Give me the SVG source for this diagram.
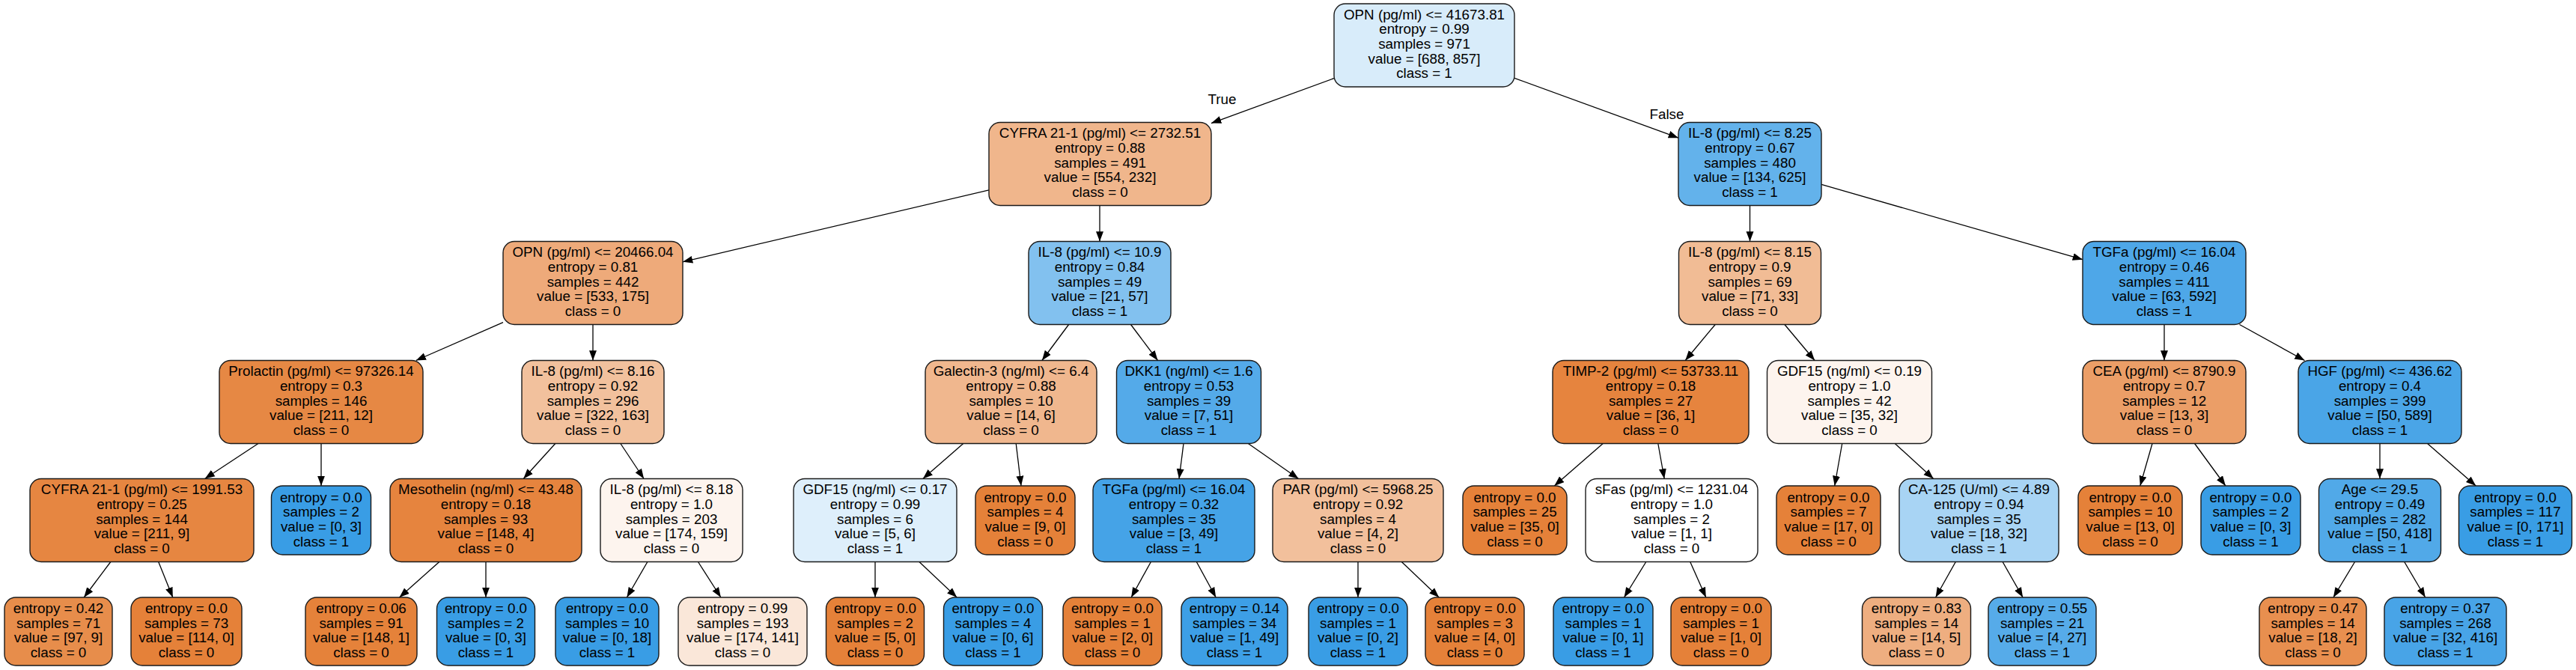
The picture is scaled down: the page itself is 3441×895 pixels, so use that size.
<svg xmlns="http://www.w3.org/2000/svg" width="3441" height="895" viewBox="0 0 3441 895">
<defs>
<marker id="arr" markerUnits="userSpaceOnUse" markerWidth="14" markerHeight="11" refX="13.3" refY="5.2" orient="auto">
<path d="M0,0.2 L13.3,5.2 L0,10.2 z" fill="#000"/>
</marker>
</defs>
<style>
.node rect{stroke:#1a1a1a;stroke-width:1.4}
text{font-family:"Liberation Sans",Arial,Helvetica,sans-serif;font-size:18.8px;text-anchor:middle;fill:#000}
#edges line{stroke:#000;stroke-width:1.3;marker-end:url(#arr)}
</style>
<rect x="0" y="0" width="3441" height="895" fill="#fff"/>
<g id="edges">
<line x1="1782" y1="104.6" x2="1618" y2="164.6"/>
<line x1="2023" y1="104.4" x2="2242" y2="184.2"/>
<line x1="1321" y1="253.9" x2="912" y2="349.8"/>
<line x1="1469" y1="274.5" x2="1469" y2="322.5"/>
<line x1="672" y1="430.6" x2="555.7" y2="481.5"/>
<line x1="792" y1="433.5" x2="792" y2="481.5"/>
<line x1="344.9" y1="592.5" x2="273.6" y2="639.5"/>
<line x1="429" y1="592.5" x2="429" y2="649"/>
<line x1="147.8" y1="750.5" x2="112.2" y2="798"/>
<line x1="211.7" y1="750.5" x2="230.8" y2="798"/>
<line x1="741.8" y1="592.5" x2="699.2" y2="639.5"/>
<line x1="828.9" y1="592.5" x2="860.1" y2="639.5"/>
<line x1="586.8" y1="750.5" x2="533.5" y2="798"/>
<line x1="649" y1="750.5" x2="649" y2="798"/>
<line x1="864.9" y1="750.5" x2="837.4" y2="798"/>
<line x1="932.5" y1="750.5" x2="962.9" y2="798"/>
<line x1="1427.6" y1="433.5" x2="1391.9" y2="481.5"/>
<line x1="1510.5" y1="433.5" x2="1546.5" y2="481.5"/>
<line x1="1286.7" y1="592.5" x2="1232.8" y2="639.5"/>
<line x1="1357.2" y1="592.5" x2="1364" y2="649"/>
<line x1="1169" y1="750.5" x2="1169" y2="798"/>
<line x1="1227.9" y1="750.5" x2="1278.2" y2="798"/>
<line x1="1581" y1="592.5" x2="1575" y2="639.5"/>
<line x1="1667.4" y1="592.5" x2="1734.6" y2="639.5"/>
<line x1="1537.4" y1="750.5" x2="1511.1" y2="798"/>
<line x1="1598.3" y1="750.5" x2="1624.2" y2="798"/>
<line x1="1814" y1="750.5" x2="1814" y2="798"/>
<line x1="1872.3" y1="750.5" x2="1922.2" y2="798"/>
<line x1="2337.5" y1="274.5" x2="2337.5" y2="322.5"/>
<line x1="2433" y1="246.4" x2="2782" y2="346.7"/>
<line x1="2291.2" y1="433.5" x2="2251.2" y2="481.5"/>
<line x1="2383.9" y1="433.5" x2="2424.1" y2="481.5"/>
<line x1="2141.2" y1="592.5" x2="2076.3" y2="649"/>
<line x1="2214.8" y1="592.5" x2="2223.2" y2="639.5"/>
<line x1="2198.8" y1="750.5" x2="2169.5" y2="798"/>
<line x1="2257.7" y1="750.5" x2="2278.8" y2="798"/>
<line x1="2460.7" y1="592.5" x2="2450.7" y2="649"/>
<line x1="2531.3" y1="592.5" x2="2582.7" y2="639.5"/>
<line x1="2612.3" y1="750.5" x2="2585.6" y2="798"/>
<line x1="2675.1" y1="750.5" x2="2702.1" y2="798"/>
<line x1="2891" y1="433.5" x2="2891" y2="481.5"/>
<line x1="2991.5" y1="433.5" x2="3078.5" y2="481.5"/>
<line x1="2875" y1="592.5" x2="2858.8" y2="649"/>
<line x1="2931.6" y1="592.5" x2="2972.9" y2="649"/>
<line x1="3179" y1="592.5" x2="3179" y2="639.5"/>
<line x1="3242.6" y1="592.5" x2="3307.3" y2="649"/>
<line x1="3145.6" y1="750.5" x2="3116.9" y2="798"/>
<line x1="3211.7" y1="750.5" x2="3239.7" y2="798"/>
<text x="1632.5" y="139">True</text>
<text x="2226.5" y="159">False</text>
</g>
<g id="n0" class="node"><rect x="1782" y="5" width="241" height="111" rx="15" fill="#d8ecfa"/><text y="25.6"><tspan x="1902.5">OPN (pg/ml) &lt;= 41673.81</tspan><tspan x="1902.5" dy="19.7">entropy = 0.99</tspan><tspan x="1902.5" dy="19.7">samples = 971</tspan><tspan x="1902.5" dy="19.7">value = [688, 857]</tspan><tspan x="1902.5" dy="19.7">class = 1</tspan></text></g>
<g id="n1" class="node"><rect x="1321" y="163.5" width="297" height="111" rx="15" fill="#f0b68c"/><text y="184.1"><tspan x="1469.5">CYFRA 21-1 (pg/ml) &lt;= 2732.51</tspan><tspan x="1469.5" dy="19.7">entropy = 0.88</tspan><tspan x="1469.5" dy="19.7">samples = 491</tspan><tspan x="1469.5" dy="19.7">value = [554, 232]</tspan><tspan x="1469.5" dy="19.7">class = 0</tspan></text></g>
<g id="n2" class="node"><rect x="2242" y="163.5" width="191" height="111" rx="15" fill="#63b2eb"/><text y="184.1"><tspan x="2337.5">IL-8 (pg/ml) &lt;= 8.25</tspan><tspan x="2337.5" dy="19.7">entropy = 0.67</tspan><tspan x="2337.5" dy="19.7">samples = 480</tspan><tspan x="2337.5" dy="19.7">value = [134, 625]</tspan><tspan x="2337.5" dy="19.7">class = 1</tspan></text></g>
<g id="n3" class="node"><rect x="672" y="322.5" width="240" height="111" rx="15" fill="#eeaa7a"/><text y="343.1"><tspan x="792">OPN (pg/ml) &lt;= 20466.04</tspan><tspan x="792" dy="19.7">entropy = 0.81</tspan><tspan x="792" dy="19.7">samples = 442</tspan><tspan x="792" dy="19.7">value = [533, 175]</tspan><tspan x="792" dy="19.7">class = 0</tspan></text></g>
<g id="n4" class="node"><rect x="1374" y="322.5" width="190" height="111" rx="15" fill="#82c1ef"/><text y="343.1"><tspan x="1469">IL-8 (pg/ml) &lt;= 10.9</tspan><tspan x="1469" dy="19.7">entropy = 0.84</tspan><tspan x="1469" dy="19.7">samples = 49</tspan><tspan x="1469" dy="19.7">value = [21, 57]</tspan><tspan x="1469" dy="19.7">class = 1</tspan></text></g>
<g id="n5" class="node"><rect x="2242.5" y="322.5" width="190" height="111" rx="15" fill="#f1bc95"/><text y="343.1"><tspan x="2337.5">IL-8 (pg/ml) &lt;= 8.15</tspan><tspan x="2337.5" dy="19.7">entropy = 0.9</tspan><tspan x="2337.5" dy="19.7">samples = 69</tspan><tspan x="2337.5" dy="19.7">value = [71, 33]</tspan><tspan x="2337.5" dy="19.7">class = 0</tspan></text></g>
<g id="n6" class="node"><rect x="2782" y="322.5" width="218" height="111" rx="15" fill="#4ea7e8"/><text y="343.1"><tspan x="2891">TGFa (pg/ml) &lt;= 16.04</tspan><tspan x="2891" dy="19.7">entropy = 0.46</tspan><tspan x="2891" dy="19.7">samples = 411</tspan><tspan x="2891" dy="19.7">value = [63, 592]</tspan><tspan x="2891" dy="19.7">class = 1</tspan></text></g>
<g id="n7" class="node"><rect x="293" y="481.5" width="272" height="111" rx="15" fill="#e68844"/><text y="502.1"><tspan x="429">Prolactin (pg/ml) &lt;= 97326.14</tspan><tspan x="429" dy="19.7">entropy = 0.3</tspan><tspan x="429" dy="19.7">samples = 146</tspan><tspan x="429" dy="19.7">value = [211, 12]</tspan><tspan x="429" dy="19.7">class = 0</tspan></text></g>
<g id="n8" class="node"><rect x="697" y="481.5" width="190" height="111" rx="15" fill="#f2c19d"/><text y="502.1"><tspan x="792">IL-8 (pg/ml) &lt;= 8.16</tspan><tspan x="792" dy="19.7">entropy = 0.92</tspan><tspan x="792" dy="19.7">samples = 296</tspan><tspan x="792" dy="19.7">value = [322, 163]</tspan><tspan x="792" dy="19.7">class = 0</tspan></text></g>
<g id="n9" class="node"><rect x="1236" y="481.5" width="229" height="111" rx="15" fill="#f0b78e"/><text y="502.1"><tspan x="1350.5">Galectin-3 (ng/ml) &lt;= 6.4</tspan><tspan x="1350.5" dy="19.7">entropy = 0.88</tspan><tspan x="1350.5" dy="19.7">samples = 10</tspan><tspan x="1350.5" dy="19.7">value = [14, 6]</tspan><tspan x="1350.5" dy="19.7">class = 0</tspan></text></g>
<g id="n10" class="node"><rect x="1491.5" y="481.5" width="193" height="111" rx="15" fill="#54aae9"/><text y="502.1"><tspan x="1588">DKK1 (ng/ml) &lt;= 1.6</tspan><tspan x="1588" dy="19.7">entropy = 0.53</tspan><tspan x="1588" dy="19.7">samples = 39</tspan><tspan x="1588" dy="19.7">value = [7, 51]</tspan><tspan x="1588" dy="19.7">class = 1</tspan></text></g>
<g id="n11" class="node"><rect x="2074" y="481.5" width="262" height="111" rx="15" fill="#e6843e"/><text y="502.1"><tspan x="2205">TIMP-2 (pg/ml) &lt;= 53733.11</tspan><tspan x="2205" dy="19.7">entropy = 0.18</tspan><tspan x="2205" dy="19.7">samples = 27</tspan><tspan x="2205" dy="19.7">value = [36, 1]</tspan><tspan x="2205" dy="19.7">class = 0</tspan></text></g>
<g id="n12" class="node"><rect x="2360.5" y="481.5" width="220" height="111" rx="15" fill="#fdf4ee"/><text y="502.1"><tspan x="2470.5">GDF15 (ng/ml) &lt;= 0.19</tspan><tspan x="2470.5" dy="19.7">entropy = 1.0</tspan><tspan x="2470.5" dy="19.7">samples = 42</tspan><tspan x="2470.5" dy="19.7">value = [35, 32]</tspan><tspan x="2470.5" dy="19.7">class = 0</tspan></text></g>
<g id="n13" class="node"><rect x="2782" y="481.5" width="218" height="111" rx="15" fill="#eb9e67"/><text y="502.1"><tspan x="2891">CEA (pg/ml) &lt;= 8790.9</tspan><tspan x="2891" dy="19.7">entropy = 0.7</tspan><tspan x="2891" dy="19.7">samples = 12</tspan><tspan x="2891" dy="19.7">value = [13, 3]</tspan><tspan x="2891" dy="19.7">class = 0</tspan></text></g>
<g id="n14" class="node"><rect x="3070" y="481.5" width="218" height="111" rx="15" fill="#4aa5e7"/><text y="502.1"><tspan x="3179">HGF (pg/ml) &lt;= 436.62</tspan><tspan x="3179" dy="19.7">entropy = 0.4</tspan><tspan x="3179" dy="19.7">samples = 399</tspan><tspan x="3179" dy="19.7">value = [50, 589]</tspan><tspan x="3179" dy="19.7">class = 1</tspan></text></g>
<g id="n15" class="node"><rect x="40" y="639.5" width="299" height="111" rx="15" fill="#e68641"/><text y="660.1"><tspan x="189.5">CYFRA 21-1 (pg/ml) &lt;= 1991.53</tspan><tspan x="189.5" dy="19.7">entropy = 0.25</tspan><tspan x="189.5" dy="19.7">samples = 144</tspan><tspan x="189.5" dy="19.7">value = [211, 9]</tspan><tspan x="189.5" dy="19.7">class = 0</tspan></text></g>
<g id="n16" class="node"><rect x="362.5" y="649" width="133" height="92" rx="15" fill="#399de5"/><text y="670.5"><tspan x="429">entropy = 0.0</tspan><tspan x="429" dy="19.7">samples = 2</tspan><tspan x="429" dy="19.7">value = [0, 3]</tspan><tspan x="429" dy="19.7">class = 1</tspan></text></g>
<g id="n17" class="node"><rect x="521" y="639.5" width="256" height="111" rx="15" fill="#e6843e"/><text y="660.1"><tspan x="649">Mesothelin (ng/ml) &lt;= 43.48</tspan><tspan x="649" dy="19.7">entropy = 0.18</tspan><tspan x="649" dy="19.7">samples = 93</tspan><tspan x="649" dy="19.7">value = [148, 4]</tspan><tspan x="649" dy="19.7">class = 0</tspan></text></g>
<g id="n18" class="node"><rect x="802" y="639.5" width="190" height="111" rx="15" fill="#fdf4ee"/><text y="660.1"><tspan x="897">IL-8 (pg/ml) &lt;= 8.18</tspan><tspan x="897" dy="19.7">entropy = 1.0</tspan><tspan x="897" dy="19.7">samples = 203</tspan><tspan x="897" dy="19.7">value = [174, 159]</tspan><tspan x="897" dy="19.7">class = 0</tspan></text></g>
<g id="n19" class="node"><rect x="1060" y="639.5" width="218" height="111" rx="15" fill="#deeffb"/><text y="660.1"><tspan x="1169">GDF15 (ng/ml) &lt;= 0.17</tspan><tspan x="1169" dy="19.7">entropy = 0.99</tspan><tspan x="1169" dy="19.7">samples = 6</tspan><tspan x="1169" dy="19.7">value = [5, 6]</tspan><tspan x="1169" dy="19.7">class = 1</tspan></text></g>
<g id="n20" class="node"><rect x="1303" y="649" width="133" height="92" rx="15" fill="#e58139"/><text y="670.5"><tspan x="1369.5">entropy = 0.0</tspan><tspan x="1369.5" dy="19.7">samples = 4</tspan><tspan x="1369.5" dy="19.7">value = [9, 0]</tspan><tspan x="1369.5" dy="19.7">class = 0</tspan></text></g>
<g id="n21" class="node"><rect x="1460" y="639.5" width="216" height="111" rx="15" fill="#45a3e7"/><text y="660.1"><tspan x="1568">TGFa (pg/ml) &lt;= 16.04</tspan><tspan x="1568" dy="19.7">entropy = 0.32</tspan><tspan x="1568" dy="19.7">samples = 35</tspan><tspan x="1568" dy="19.7">value = [3, 49]</tspan><tspan x="1568" dy="19.7">class = 1</tspan></text></g>
<g id="n22" class="node"><rect x="1700" y="639.5" width="228" height="111" rx="15" fill="#f2c09c"/><text y="660.1"><tspan x="1814">PAR (pg/ml) &lt;= 5968.25</tspan><tspan x="1814" dy="19.7">entropy = 0.92</tspan><tspan x="1814" dy="19.7">samples = 4</tspan><tspan x="1814" dy="19.7">value = [4, 2]</tspan><tspan x="1814" dy="19.7">class = 0</tspan></text></g>
<g id="n23" class="node"><rect x="1954" y="649" width="139" height="92" rx="15" fill="#e58139"/><text y="670.5"><tspan x="2023.5">entropy = 0.0</tspan><tspan x="2023.5" dy="19.7">samples = 25</tspan><tspan x="2023.5" dy="19.7">value = [35, 0]</tspan><tspan x="2023.5" dy="19.7">class = 0</tspan></text></g>
<g id="n24" class="node"><rect x="2118" y="639.5" width="230" height="111" rx="15" fill="#ffffff"/><text y="660.1"><tspan x="2233">sFas (pg/ml) &lt;= 1231.04</tspan><tspan x="2233" dy="19.7">entropy = 1.0</tspan><tspan x="2233" dy="19.7">samples = 2</tspan><tspan x="2233" dy="19.7">value = [1, 1]</tspan><tspan x="2233" dy="19.7">class = 0</tspan></text></g>
<g id="n25" class="node"><rect x="2373" y="649" width="139" height="92" rx="15" fill="#e58139"/><text y="670.5"><tspan x="2442.5">entropy = 0.0</tspan><tspan x="2442.5" dy="19.7">samples = 7</tspan><tspan x="2442.5" dy="19.7">value = [17, 0]</tspan><tspan x="2442.5" dy="19.7">class = 0</tspan></text></g>
<g id="n26" class="node"><rect x="2537" y="639.5" width="213" height="111" rx="15" fill="#a8d4f4"/><text y="660.1"><tspan x="2643.5">CA-125 (U/ml) &lt;= 4.89</tspan><tspan x="2643.5" dy="19.7">entropy = 0.94</tspan><tspan x="2643.5" dy="19.7">samples = 35</tspan><tspan x="2643.5" dy="19.7">value = [18, 32]</tspan><tspan x="2643.5" dy="19.7">class = 1</tspan></text></g>
<g id="n27" class="node"><rect x="2776" y="649" width="139" height="92" rx="15" fill="#e58139"/><text y="670.5"><tspan x="2845.5">entropy = 0.0</tspan><tspan x="2845.5" dy="19.7">samples = 10</tspan><tspan x="2845.5" dy="19.7">value = [13, 0]</tspan><tspan x="2845.5" dy="19.7">class = 0</tspan></text></g>
<g id="n28" class="node"><rect x="2940" y="649" width="133" height="92" rx="15" fill="#399de5"/><text y="670.5"><tspan x="3006.5">entropy = 0.0</tspan><tspan x="3006.5" dy="19.7">samples = 2</tspan><tspan x="3006.5" dy="19.7">value = [0, 3]</tspan><tspan x="3006.5" dy="19.7">class = 1</tspan></text></g>
<g id="n29" class="node"><rect x="3097.5" y="639.5" width="163" height="111" rx="15" fill="#51a9e8"/><text y="660.1"><tspan x="3179">Age &lt;= 29.5</tspan><tspan x="3179" dy="19.7">entropy = 0.49</tspan><tspan x="3179" dy="19.7">samples = 282</tspan><tspan x="3179" dy="19.7">value = [50, 418]</tspan><tspan x="3179" dy="19.7">class = 1</tspan></text></g>
<g id="n30" class="node"><rect x="3284.5" y="649" width="151" height="92" rx="15" fill="#399de5"/><text y="670.5"><tspan x="3360">entropy = 0.0</tspan><tspan x="3360" dy="19.7">samples = 117</tspan><tspan x="3360" dy="19.7">value = [0, 171]</tspan><tspan x="3360" dy="19.7">class = 1</tspan></text></g>
<g id="n31" class="node"><rect x="6" y="798" width="144" height="91" rx="15" fill="#e78d4b"/><text y="819"><tspan x="78">entropy = 0.42</tspan><tspan x="78" dy="19.7">samples = 71</tspan><tspan x="78" dy="19.7">value = [97, 9]</tspan><tspan x="78" dy="19.7">class = 0</tspan></text></g>
<g id="n32" class="node"><rect x="175" y="798" width="148" height="91" rx="15" fill="#e58139"/><text y="819"><tspan x="249">entropy = 0.0</tspan><tspan x="249" dy="19.7">samples = 73</tspan><tspan x="249" dy="19.7">value = [114, 0]</tspan><tspan x="249" dy="19.7">class = 0</tspan></text></g>
<g id="n33" class="node"><rect x="408" y="798" width="149" height="91" rx="15" fill="#e5823a"/><text y="819"><tspan x="482.5">entropy = 0.06</tspan><tspan x="482.5" dy="19.7">samples = 91</tspan><tspan x="482.5" dy="19.7">value = [148, 1]</tspan><tspan x="482.5" dy="19.7">class = 0</tspan></text></g>
<g id="n34" class="node"><rect x="583.5" y="798" width="131" height="91" rx="15" fill="#399de5"/><text y="819"><tspan x="649">entropy = 0.0</tspan><tspan x="649" dy="19.7">samples = 2</tspan><tspan x="649" dy="19.7">value = [0, 3]</tspan><tspan x="649" dy="19.7">class = 1</tspan></text></g>
<g id="n35" class="node"><rect x="742" y="798" width="138" height="91" rx="15" fill="#399de5"/><text y="819"><tspan x="811">entropy = 0.0</tspan><tspan x="811" dy="19.7">samples = 10</tspan><tspan x="811" dy="19.7">value = [0, 18]</tspan><tspan x="811" dy="19.7">class = 1</tspan></text></g>
<g id="n36" class="node"><rect x="906" y="798" width="172" height="91" rx="15" fill="#fae7d9"/><text y="819"><tspan x="992">entropy = 0.99</tspan><tspan x="992" dy="19.7">samples = 193</tspan><tspan x="992" dy="19.7">value = [174, 141]</tspan><tspan x="992" dy="19.7">class = 0</tspan></text></g>
<g id="n37" class="node"><rect x="1103.5" y="798" width="131" height="91" rx="15" fill="#e58139"/><text y="819"><tspan x="1169">entropy = 0.0</tspan><tspan x="1169" dy="19.7">samples = 2</tspan><tspan x="1169" dy="19.7">value = [5, 0]</tspan><tspan x="1169" dy="19.7">class = 0</tspan></text></g>
<g id="n38" class="node"><rect x="1260.5" y="798" width="132" height="91" rx="15" fill="#399de5"/><text y="819"><tspan x="1326.5">entropy = 0.0</tspan><tspan x="1326.5" dy="19.7">samples = 4</tspan><tspan x="1326.5" dy="19.7">value = [0, 6]</tspan><tspan x="1326.5" dy="19.7">class = 1</tspan></text></g>
<g id="n39" class="node"><rect x="1420" y="798" width="132" height="91" rx="15" fill="#e58139"/><text y="819"><tspan x="1486">entropy = 0.0</tspan><tspan x="1486" dy="19.7">samples = 1</tspan><tspan x="1486" dy="19.7">value = [2, 0]</tspan><tspan x="1486" dy="19.7">class = 0</tspan></text></g>
<g id="n40" class="node"><rect x="1578" y="798" width="142" height="91" rx="15" fill="#3d9fe6"/><text y="819"><tspan x="1649">entropy = 0.14</tspan><tspan x="1649" dy="19.7">samples = 34</tspan><tspan x="1649" dy="19.7">value = [1, 49]</tspan><tspan x="1649" dy="19.7">class = 1</tspan></text></g>
<g id="n41" class="node"><rect x="1748" y="798" width="132" height="91" rx="15" fill="#399de5"/><text y="819"><tspan x="1814">entropy = 0.0</tspan><tspan x="1814" dy="19.7">samples = 1</tspan><tspan x="1814" dy="19.7">value = [0, 2]</tspan><tspan x="1814" dy="19.7">class = 1</tspan></text></g>
<g id="n42" class="node"><rect x="1904" y="798" width="132" height="91" rx="15" fill="#e58139"/><text y="819"><tspan x="1970">entropy = 0.0</tspan><tspan x="1970" dy="19.7">samples = 3</tspan><tspan x="1970" dy="19.7">value = [4, 0]</tspan><tspan x="1970" dy="19.7">class = 0</tspan></text></g>
<g id="n43" class="node"><rect x="2075" y="798" width="133" height="91" rx="15" fill="#399de5"/><text y="819"><tspan x="2141.5">entropy = 0.0</tspan><tspan x="2141.5" dy="19.7">samples = 1</tspan><tspan x="2141.5" dy="19.7">value = [0, 1]</tspan><tspan x="2141.5" dy="19.7">class = 1</tspan></text></g>
<g id="n44" class="node"><rect x="2232" y="798" width="134" height="91" rx="15" fill="#e58139"/><text y="819"><tspan x="2299">entropy = 0.0</tspan><tspan x="2299" dy="19.7">samples = 1</tspan><tspan x="2299" dy="19.7">value = [1, 0]</tspan><tspan x="2299" dy="19.7">class = 0</tspan></text></g>
<g id="n45" class="node"><rect x="2487.5" y="798" width="145" height="91" rx="15" fill="#eeae80"/><text y="819"><tspan x="2560">entropy = 0.83</tspan><tspan x="2560" dy="19.7">samples = 14</tspan><tspan x="2560" dy="19.7">value = [14, 5]</tspan><tspan x="2560" dy="19.7">class = 0</tspan></text></g>
<g id="n46" class="node"><rect x="2656" y="798" width="144" height="91" rx="15" fill="#56abe9"/><text y="819"><tspan x="2728">entropy = 0.55</tspan><tspan x="2728" dy="19.7">samples = 21</tspan><tspan x="2728" dy="19.7">value = [4, 27]</tspan><tspan x="2728" dy="19.7">class = 1</tspan></text></g>
<g id="n47" class="node"><rect x="3018" y="798" width="143" height="91" rx="15" fill="#e88f4f"/><text y="819"><tspan x="3089.5">entropy = 0.47</tspan><tspan x="3089.5" dy="19.7">samples = 14</tspan><tspan x="3089.5" dy="19.7">value = [18, 2]</tspan><tspan x="3089.5" dy="19.7">class = 0</tspan></text></g>
<g id="n48" class="node"><rect x="3185" y="798" width="163" height="91" rx="15" fill="#48a4e7"/><text y="819"><tspan x="3266.5">entropy = 0.37</tspan><tspan x="3266.5" dy="19.7">samples = 268</tspan><tspan x="3266.5" dy="19.7">value = [32, 416]</tspan><tspan x="3266.5" dy="19.7">class = 1</tspan></text></g>
</svg>
